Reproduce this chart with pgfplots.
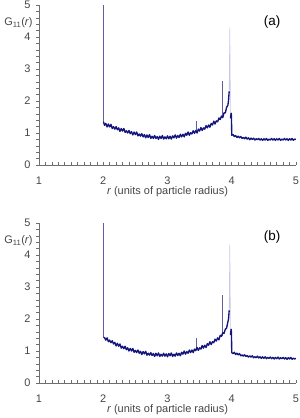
\documentclass[border=0pt]{standalone}
\usepackage{pgfplots}
\pgfplotsset{compat=1.18}
\usepackage{fontspec}
\setmainfont{Liberation Sans}
\definecolor{navy}{RGB}{20,20,125}
\definecolor{spike}{RGB}{95,95,160}
\definecolor{faint}{RGB}{200,200,230}
\definecolor{axgray}{RGB}{110,110,110}
\definecolor{lblgray}{RGB}{70,70,70}
\pgfplotsset{
  gstyle/.style={
    scale only axis, width=257bp, height=160bp,
    xmin=1, xmax=5, ymin=0, ymax=5,
    axis x line=bottom, axis y line=left,
    axis line style={-, axgray, line width=0.6bp},
    xtick={1,2,3,4,5}, ytick={0,1,2,3,4,5},
    minor x tick num=9, minor y tick num=4,
    tick align=inside,
    major tick length=3bp, minor tick length=3bp,
    every tick/.style={axgray, line width=0.5bp},
    y tick style={xshift=-3bp},
    /pgf/number format/assume math mode=true,
    ticklabel style={font=\fontsize{11}{13}\selectfont, text=lblgray},
    xticklabel style={yshift=-8bp},
    yticklabel style={xshift=-5bp},
    xlabel={\textit{r} (units of particle radius)},
    xlabel style={at={(axis description cs:0.5,0)}, anchor=north, yshift=-18.5bp, font=\fontsize{11}{13}\selectfont, text=lblgray},
    ylabel={G\textsubscript{11}(\textit{r})},
    ylabel style={rotate=-90, at={(axis description cs:-0.08,0.8875)}, anchor=center, font=\fontsize{11}{13}\selectfont, text=lblgray},
    clip=true,
  },
  mainline/.style={navy, line width=1.35bp, mark=none, line join=round},
  spikeline/.style={spike, line width=0.5bp, mark=none},
  faintline/.style={faint, line width=0.6bp, mark=none},
}
\begin{document}
\begin{tikzpicture}
\useasboundingbox (0,0) rectangle (300bp,-418bp);
% ---------------- panel (a)
\begin{axis}[gstyle, at={(39bp,-165bp)}, anchor=south west]
\addplot[spikeline] coordinates {(2.00,5.00)(2.00,1.30)};
\addplot[spikeline] coordinates {(3.45,1.05)(3.45,1.37)};
\addplot[spikeline] coordinates {(3.85,1.50)(3.85,2.63)};
\addplot[faintline] coordinates {(3.96,2.30)(3.97,4.30)(3.98,1.46)};
\addplot[mainline] coordinates {
(2.004,1.35)(2.02,1.24)(2.04,1.30)(2.06,1.19)(2.08,1.28)(2.10,1.19)(2.12,1.27)(2.14,1.14)(2.16,1.20)(2.18,1.12)
(2.20,1.20)(2.22,1.10)(2.24,1.16)(2.26,1.05)(2.28,1.14)(2.30,1.06)(2.32,1.14)(2.34,1.02)(2.36,1.07)(2.38,1.00)
(2.40,1.08)(2.42,0.98)(2.44,1.04)(2.46,0.94)(2.48,1.03)(2.50,0.95)(2.52,1.03)(2.54,0.91)(2.56,0.97)(2.58,0.90)
(2.60,0.98)(2.62,0.88)(2.64,0.95)(2.66,0.85)(2.68,0.94)(2.70,0.86)(2.72,0.95)(2.74,0.83)(2.76,0.90)(2.78,0.83)
(2.80,0.92)(2.82,0.83)(2.84,0.89)(2.86,0.80)(2.88,0.90)(2.90,0.83)(2.92,0.92)(2.94,0.81)(2.96,0.88)(2.98,0.82)
(3.00,0.91)(3.02,0.82)(3.04,0.90)(3.06,0.81)(3.08,0.91)(3.10,0.85)(3.12,0.94)(3.14,0.84)(3.16,0.92)(3.18,0.86)
(3.20,0.96)(3.22,0.88)(3.24,0.96)(3.26,0.88)(3.28,0.99)(3.30,0.93)(3.32,1.03)(3.34,0.93)(3.36,1.01)(3.38,0.97)
(3.40,1.07)(3.42,0.99)(3.44,1.08)(3.46,1.00)(3.48,1.12)(3.50,1.06)(3.52,1.17)(3.54,1.08)(3.56,1.16)(3.58,1.12)
(3.60,1.23)(3.62,1.16)(3.64,1.25)(3.66,1.18)(3.68,1.30)(3.70,1.25)(3.72,1.37)(3.74,1.28)(3.76,1.38)(3.78,1.35)
(3.80,1.47)(3.82,1.42)(3.84,1.53)(3.86,1.48)(3.88,1.63)(3.90,1.63)(3.92,1.80)(3.94,1.87)(3.95,2.02)(3.96,2.30)
};
\addplot[mainline] coordinates {
(3.98,1.46)(3.99,1.62)(3.995,1.56)(4.00,0.93)
(4.02,0.95)(4.04,0.89)(4.06,0.92)(4.08,0.86)(4.10,0.90)(4.12,0.85)(4.14,0.89)(4.16,0.83)(4.18,0.86)(4.20,0.82)
(4.22,0.87)(4.24,0.81)(4.26,0.85)(4.28,0.79)(4.30,0.84)(4.32,0.80)(4.34,0.84)(4.36,0.78)(4.38,0.82)(4.40,0.79)
(4.42,0.83)(4.44,0.78)(4.46,0.82)(4.48,0.77)(4.50,0.82)(4.52,0.78)(4.54,0.83)(4.56,0.77)(4.58,0.81)(4.60,0.78)
(4.62,0.83)(4.64,0.78)(4.66,0.82)(4.68,0.77)(4.70,0.82)(4.72,0.78)(4.74,0.83)(4.76,0.77)(4.78,0.81)(4.80,0.78)
(4.82,0.83)(4.84,0.78)(4.86,0.82)(4.88,0.77)(4.90,0.82)(4.92,0.78)(4.94,0.83)(4.96,0.77)(4.98,0.81)(5.00,0.80)
};
\node[font=\fontsize{13.5}{15}\selectfont, text=black] at (axis description cs:0.907,0.894) {(a)};
\end{axis}
% ---------------- panel (b)
\begin{axis}[gstyle, at={(39bp,-383bp)}, anchor=south west]
\addplot[spikeline] coordinates {(2.00,5.00)(2.00,1.40)};
\addplot[spikeline] coordinates {(3.45,1.02)(3.45,1.41)};
\addplot[spikeline] coordinates {(3.85,1.48)(3.85,2.75)};
\addplot[faintline] coordinates {(3.96,2.27)(3.97,4.34)(3.98,1.50)};
\addplot[mainline] coordinates {
(2.004,1.42)(2.02,1.42)(2.04,1.34)(2.06,1.41)(2.08,1.29)(2.10,1.34)(2.12,1.26)(2.14,1.32)(2.16,1.22)(2.18,1.27)
(2.20,1.16)(2.22,1.24)(2.24,1.15)(2.26,1.22)(2.28,1.09)(2.30,1.15)(2.32,1.07)(2.34,1.15)(2.36,1.04)(2.38,1.10)
(2.40,1.00)(2.42,1.08)(2.44,1.00)(2.46,1.08)(2.48,0.96)(2.50,1.02)(2.52,0.95)(2.54,1.03)(2.56,0.93)(2.58,0.99)
(2.60,0.89)(2.62,0.98)(2.64,0.91)(2.66,0.99)(2.68,0.87)(2.70,0.93)(2.72,0.87)(2.74,0.95)(2.76,0.86)(2.78,0.92)
(2.80,0.83)(2.82,0.93)(2.84,0.85)(2.86,0.94)(2.88,0.83)(2.90,0.90)(2.92,0.84)(2.94,0.93)(2.96,0.84)(2.98,0.91)
(3.00,0.82)(3.02,0.92)(3.04,0.85)(3.06,0.94)(3.08,0.83)(3.10,0.90)(3.12,0.84)(3.14,0.94)(3.16,0.86)(3.18,0.93)
(3.20,0.85)(3.22,0.96)(3.24,0.90)(3.26,1.00)(3.28,0.90)(3.30,0.98)(3.32,0.93)(3.34,1.03)(3.36,0.95)(3.38,1.03)
(3.40,0.95)(3.42,1.06)(3.44,1.01)(3.46,1.11)(3.48,1.02)(3.50,1.10)(3.52,1.06)(3.54,1.17)(3.56,1.09)(3.58,1.18)
(3.60,1.11)(3.62,1.23)(3.64,1.18)(3.66,1.29)(3.68,1.20)(3.70,1.29)(3.72,1.26)(3.74,1.37)(3.76,1.31)(3.78,1.41)
(3.80,1.35)(3.82,1.49)(3.84,1.46)(3.86,1.57)(3.88,1.55)(3.90,1.68)(3.92,1.72)(3.94,1.91)(3.95,2.00)(3.96,2.27)
};
\addplot[mainline] coordinates {
(3.98,1.50)(3.99,1.68)(3.995,1.60)(4.00,0.95)
(4.02,0.92)(4.04,0.96)(4.06,0.89)(4.08,0.93)(4.10,0.88)(4.12,0.92)(4.14,0.85)(4.16,0.88)(4.18,0.84)(4.20,0.88)
(4.22,0.83)(4.24,0.86)(4.26,0.81)(4.28,0.85)(4.30,0.81)(4.32,0.85)(4.34,0.79)(4.36,0.82)(4.38,0.79)(4.40,0.84)
(4.42,0.78)(4.44,0.82)(4.46,0.77)(4.48,0.82)(4.50,0.77)(4.52,0.82)(4.54,0.76)(4.56,0.80)(4.58,0.77)(4.60,0.81)
(4.62,0.76)(4.64,0.80)(4.66,0.75)(4.68,0.80)(4.70,0.76)(4.72,0.81)(4.74,0.75)(4.76,0.79)(4.78,0.76)(4.80,0.80)
(4.82,0.75)(4.84,0.79)(4.86,0.74)(4.88,0.79)(4.90,0.75)(4.92,0.80)(4.94,0.74)(4.96,0.78)(4.98,0.75)(5.00,0.77)
};
\node[font=\fontsize{13.5}{15}\selectfont, text=black] at (axis description cs:0.907,0.912) {(b)};
\end{axis}
\end{tikzpicture}
\end{document}
